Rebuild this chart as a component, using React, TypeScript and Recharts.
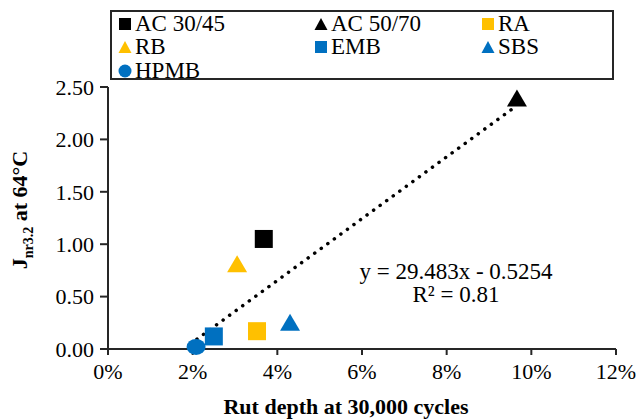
import { ScatterChart, Scatter, XAxis, YAxis } from 'recharts';

const FONT = 'Liberation Serif';

// rut depth (fraction) vs Jnr3.2 at 64°C
const ac3045 = [{ x: 0.0368, y: 1.05 }];
const ac5070 = [{ x: 0.0966, y: 2.38 }];
const ra = [{ x: 0.0352, y: 0.17 }];
const rb = [{ x: 0.0305, y: 0.8 }];
const emb = [{ x: 0.025, y: 0.12 }];
const sbs = [{ x: 0.043, y: 0.24 }];
const hpmb = [{ x: 0.0208, y: 0.02 }];

// linear trendline endpoints (y = 29.483x - 0.5254)
const trend = [
  { x: 0.021, y: 0.094 },
  { x: 0.0966, y: 2.323 },
];

const xTicks = [0, 0.02, 0.04, 0.06, 0.08, 0.1, 0.12];
const yTicks = [0, 0.5, 1, 1.5, 2, 2.5];

const legendItems = [
  { name: 'AC 30/45', color: '#000000', shape: 'square' },
  { name: 'AC 50/70', color: '#000000', shape: 'triangle' },
  { name: 'RA', color: '#FFC000', shape: 'square' },
  { name: 'RB', color: '#FFC000', shape: 'triangle' },
  { name: 'EMB', color: '#0070C0', shape: 'square' },
  { name: 'SBS', color: '#0070C0', shape: 'triangle' },
  { name: 'HPMB', color: '#0070C0', shape: 'circle' },
];

const AXIS = '#262626';

function LegendMarker({ color, shape }: { color: string; shape: string }) {
  return (
    <svg width={14} height={14} style={{ marginRight: 3 }}>
      {shape === 'square' && <rect x={1} y={1} width={12} height={12} fill={color} />}
      {shape === 'triangle' && <polygon points="7,1 13.5,13 0.5,13" fill={color} />}
      {shape === 'circle' && <circle cx={7} cy={7} r={6.5} fill={color} />}
    </svg>
  );
}

const squareShape = (color: string) => (p: any) => (
  <rect x={p.cx - 9} y={p.cy - 9} width={18} height={18} fill={color} />
);
const triangleShape = (color: string) => (p: any) => (
  <polygon
    points={`${p.cx},${p.cy - 10} ${p.cx + 10},${p.cy + 7} ${p.cx - 10},${p.cy + 7}`}
    fill={color}
  />
);
const circleShape = (color: string) => (p: any) => (
  <ellipse cx={p.cx} cy={p.cy} rx={9.5} ry={8} fill={color} />
);

function YLabel() {
  return (
    <text
      transform="translate(27,210) rotate(-90)"
      textAnchor="middle"
      fontFamily={FONT}
      fontWeight="bold"
      fontSize={22}
      fill="#000"
    >
      J<tspan fontSize={14} dy={6}>nr3.2</tspan>
      <tspan dy={-6}> at 64°C</tspan>
    </text>
  );
}

function XLabel() {
  return (
    <text x={346} y={414} textAnchor="middle" fontFamily={FONT} fontWeight="bold" fontSize={22} fill="#000">
      Rut depth at 30,000 cycles
    </text>
  );
}

export default function App() {
  return (
    <div style={{ position: 'absolute', left: 0, top: 0, width: 638, height: 419, background: '#fff' }}>
      <div
        style={{
          position: 'absolute',
          left: 110,
          top: 10,
          width: 504,
          height: 70,
          border: `2px solid ${AXIS}`,
          fontFamily: FONT,
          fontSize: 23,
          display: 'grid',
          gridTemplateColumns: '196px 167px 130px',
          gridAutoRows: '23.5px',
          paddingLeft: 6,
          boxSizing: 'border-box',
        }}
      >
        {legendItems.map((it) => (
          <div key={it.name} style={{ display: 'flex', alignItems: 'center', lineHeight: '22px' }}>
            <LegendMarker color={it.color} shape={it.shape} />
            <span>{it.name}</span>
          </div>
        ))}
      </div>
      <ScatterChart
        width={638}
        height={419}
        margin={{ top: 87, right: 22, bottom: 40, left: 48 }}
        style={{ position: 'absolute', left: 0, top: 0 }}
      >
        <XAxis
          type="number"
          dataKey="x"
          domain={[0, 0.12]}
          ticks={xTicks}
          tickFormatter={(v: number) => `${Math.round(v * 100)}%`}
          stroke={AXIS}
          strokeWidth={2}
          tickSize={6}
          height={30}
          tick={{ fontFamily: FONT, fontSize: 22, fill: '#000', dy: 6 }}
          label={<XLabel />}
        />
        <XAxis
          xAxisId="top"
          orientation="top"
          type="number"
          dataKey="x"
          domain={[0, 0.12]}
          height={0}
          tick={false}
          tickLine={false}
          stroke={AXIS}
          strokeWidth={2}
        />
        <YAxis
          type="number"
          dataKey="y"
          domain={[0, 2.5]}
          ticks={yTicks}
          tickFormatter={(v: number) => v.toFixed(2)}
          stroke={AXIS}
          strokeWidth={2}
          tickSize={8}
          width={60}
          tick={{ fontFamily: FONT, fontSize: 22, fill: '#000', dx: -4 }}
          label={<YLabel />}
        />
        <YAxis
          yAxisId="right"
          orientation="right"
          type="number"
          dataKey="y"
          domain={[0, 2.5]}
          width={0}
          tick={false}
          tickLine={false}
          stroke={AXIS}
          strokeWidth={2}
        />
        <Scatter
          data={trend}
          line={{ stroke: '#000', strokeWidth: 3.5, strokeDasharray: '0.1 8', strokeLinecap: 'round' }}
          shape={() => null}
          isAnimationActive={false}
        />
        <Scatter name="AC 30/45" data={ac3045} shape={squareShape('#000000')} isAnimationActive={false} />
        <Scatter name="AC 50/70" data={ac5070} shape={triangleShape('#000000')} isAnimationActive={false} />
        <Scatter name="RA" data={ra} shape={squareShape('#FFC000')} isAnimationActive={false} />
        <Scatter name="RB" data={rb} shape={triangleShape('#FFC000')} isAnimationActive={false} />
        <Scatter name="EMB" data={emb} shape={squareShape('#0070C0')} isAnimationActive={false} />
        <Scatter name="SBS" data={sbs} shape={triangleShape('#0070C0')} isAnimationActive={false} />
        <Scatter name="HPMB" data={hpmb} shape={circleShape('#0070C0')} isAnimationActive={false} />
        <text x={456} y={279} textAnchor="middle" fontFamily={FONT} fontSize={23} fill="#000">
          y = 29.483x - 0.5254
        </text>
        <text x={456} y={302} textAnchor="middle" fontFamily={FONT} fontSize={23} fill="#000">
          R² = 0.81
        </text>
      </ScatterChart>
    </div>
  );
}
